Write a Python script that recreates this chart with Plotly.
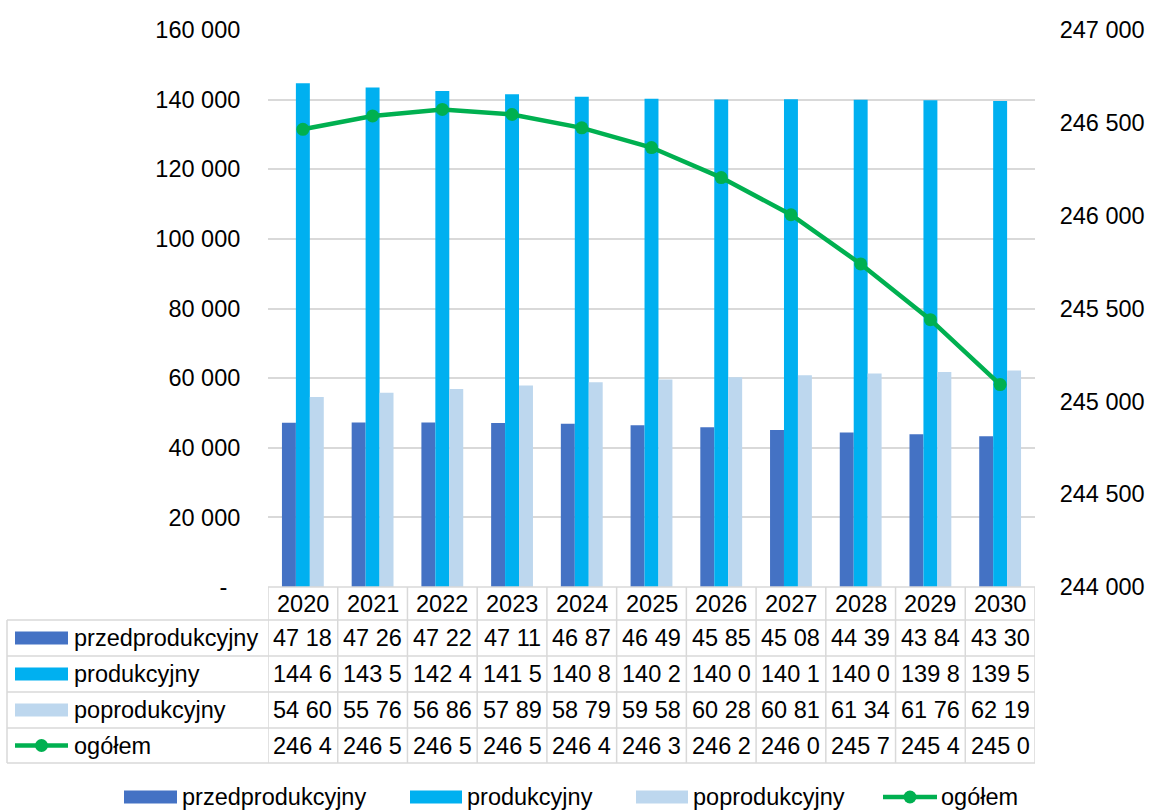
import plotly.graph_objects as go

# ---------------- data ----------------
years = ["2020", "2021", "2022", "2023", "2024", "2025", "2026", "2027", "2028", "2029", "2030"]
przedprodukcyjny = [47185, 47265, 47225, 47115, 46875, 46495, 45855, 45085, 44395, 43845, 43305]
produkcyjny = [144675, 143507, 142482, 141535, 140803, 140287, 140065, 140105, 140000, 139830, 139590]
poprodukcyjny = [54605, 55765, 56865, 57895, 58795, 59585, 60285, 60815, 61345, 61765, 62195]
ogolem = [246465, 246537, 246572, 246545, 246473, 246367, 246205, 246005, 245740, 245440, 245090]

left_tick_vals = [0, 20000, 40000, 60000, 80000, 100000, 120000, 140000, 160000]
left_tick_labels = ["-\u00a0\u00a0", "20 000", "40 000", "60 000", "80 000", "100 000",
                    "120 000", "140 000", "160 000"]
right_tick_vals = [244000, 244500, 245000, 245500, 246000, 246500, 247000]
right_tick_labels = ["244 000", "244 500", "245 000", "245 500", "246 000", "246 500", "247 000"]

series_names = ["przedprodukcyjny", "produkcyjny", "poprodukcyjny", "ogółem"]
colors = ["#4472C4", "#00B0F0", "#BDD7EE", "#00B050"]

# ---------------- layout geometry (pixels) ----------------
W, H = 1151, 810
L, R, T, B = 268, 1035, 30, 587
FONT = "Liberation Sans, Arial, sans-serif"
FS = 23.5
GRID = "#D9D9D9"


def X(px):
    return (px - L) / (R - L)


def Y(py):
    return (B - py) / (B - T)


fig = go.Figure()
for name, vals, c in zip(series_names[:3], [przedprodukcyjny, produkcyjny, poprodukcyjny], colors[:3]):
    fig.add_trace(go.Bar(x=years, y=vals, name=name, marker=dict(color=c, line=dict(width=0)),
                         showlegend=False))
fig.add_trace(go.Scatter(x=years, y=ogolem, name=series_names[3], yaxis="y2", mode="lines+markers",
                         line=dict(color=colors[3], width=4.5),
                         marker=dict(size=13, color=colors[3]), showlegend=False))

shapes = []
annotations = []

# ---- data table ----
row_edges = [587, 620, 656, 692, 728, 763]
line_style = dict(color=GRID, width=1.5)
shapes.append(dict(type="line", xref="paper", yref="paper", x0=X(L), x1=X(R),
                   y0=Y(row_edges[0]), y1=Y(row_edges[0]), line=line_style))
for ry in row_edges[1:]:
    shapes.append(dict(type="line", xref="paper", yref="paper", x0=X(7), x1=X(R),
                       y0=Y(ry), y1=Y(ry), line=line_style))
for i in range(len(years) + 1):
    shapes.append(dict(type="line", xref="x", yref="paper", x0=i - 0.5, x1=i - 0.5,
                       y0=Y(row_edges[0]), y1=Y(row_edges[-1]), line=line_style))
shapes.append(dict(type="line", xref="paper", yref="paper", x0=X(7), x1=X(7),
                   y0=Y(row_edges[1]), y1=Y(row_edges[-1]), line=line_style))

# header (years) - categories addressed by index
hy = (row_edges[0] + row_edges[1]) / 2
for i, yr in enumerate(years):
    annotations.append(dict(x=i, y=Y(hy), xref="x", yref="paper", text=yr, showarrow=False,
                            font=dict(size=FS, color="black", family=FONT), xanchor="center",
                            yanchor="middle"))


def fmt(v):
    return f"{v:,}".replace(",", " ")


table_series = [przedprodukcyjny, produkcyjny, poprodukcyjny, ogolem]
for r, (name, vals, c) in enumerate(zip(series_names, table_series, colors)):
    cy = (row_edges[r + 1] + row_edges[r + 2]) / 2
    if r < 3:
        shapes.append(dict(type="rect", xref="paper", yref="paper", x0=X(15), x1=X(68),
                           y0=Y(cy - 6.5), y1=Y(cy + 6.5), fillcolor=c, line=dict(width=0)))
    else:
        shapes.append(dict(type="line", xref="paper", yref="paper", x0=X(15), x1=X(68),
                           y0=Y(cy), y1=Y(cy), line=dict(color=c, width=4.5)))
        shapes.append(dict(type="circle", xref="paper", yref="paper", x0=X(35), x1=X(48),
                           y0=Y(cy + 6.5), y1=Y(cy - 6.5), fillcolor=c, line=dict(width=0)))
    annotations.append(dict(x=X(72), y=Y(cy), xref="paper", yref="paper", text=name,
                            showarrow=False, xanchor="left", yanchor="middle",
                            font=dict(size=FS, color="black", family=FONT)))
    for i, v in enumerate(vals):
        annotations.append(dict(x=i, y=Y(cy), xref="x", yref="paper", text=fmt(v)[:5],
                                showarrow=False, xanchor="center", yanchor="middle",
                                font=dict(size=FS, color="black", family=FONT)))

# ---- bottom legend ----
leg_y = 797
leg_items = [(124, 177, 180), (410, 462, 465), (636, 688, 691), (883, 937, 939)]
for (x0, x1, tx), name, c in zip(leg_items, series_names, colors):
    if name != "ogółem":
        shapes.append(dict(type="rect", xref="paper", yref="paper", x0=X(x0), x1=X(x1),
                           y0=Y(leg_y - 6.5), y1=Y(leg_y + 6.5), fillcolor=c, line=dict(width=0)))
    else:
        shapes.append(dict(type="line", xref="paper", yref="paper", x0=X(x0), x1=X(x1),
                           y0=Y(leg_y), y1=Y(leg_y), line=dict(color=c, width=4.5)))
        mx = (x0 + x1) / 2
        shapes.append(dict(type="circle", xref="paper", yref="paper", x0=X(mx - 6.5), x1=X(mx + 6.5),
                           y0=Y(leg_y + 6.5), y1=Y(leg_y - 6.5), fillcolor=c, line=dict(width=0)))
    annotations.append(dict(x=X(tx), y=Y(leg_y), xref="paper", yref="paper", text=name,
                            showarrow=False, xanchor="left", yanchor="middle",
                            font=dict(size=FS, color="black", family=FONT)))

fig.update_layout(
    width=W, height=H,
    margin=dict(l=L, r=W - R, t=T, b=H - B, pad=0, autoexpand=False),
    paper_bgcolor="white", plot_bgcolor="white",
    barmode="group", bargap=0.4, bargroupgap=0,
    font=dict(family=FONT, size=FS, color="black"),
    xaxis=dict(type="category", showticklabels=False, showgrid=False, zeroline=False,
               showline=False, ticks="", range=[-0.5, len(years) - 0.5], fixedrange=True,
               automargin=False),
    yaxis=dict(range=[0, 160000], tickvals=left_tick_vals, ticktext=left_tick_labels,
               showgrid=True, gridcolor=GRID, gridwidth=1.5, zeroline=False, showline=False,
               ticks="outside", ticklen=22, tickcolor="rgba(0,0,0,0)", automargin=False,
               tickfont=dict(size=FS, color="black", family=FONT)),
    yaxis2=dict(range=[244000, 247000], tickvals=right_tick_vals, ticktext=right_tick_labels,
                overlaying="y", side="right", showgrid=False, zeroline=False, showline=False,
                ticks="outside", ticklen=19, tickcolor="rgba(0,0,0,0)", automargin=False,
                tickfont=dict(size=FS, color="black", family=FONT)),
    shapes=shapes, annotations=annotations,
    showlegend=False,
)

fig.write_html("out.html", config={"displayModeBar": False},
               post_script="document.body.style.margin='0';")
